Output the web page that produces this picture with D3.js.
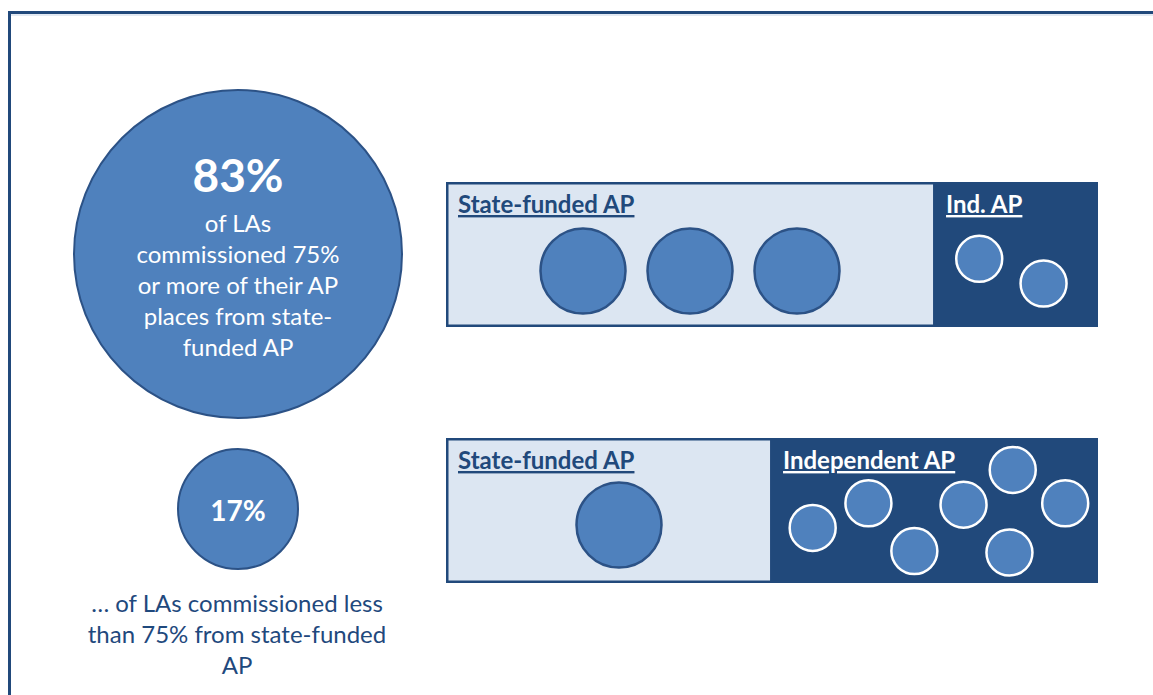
<!DOCTYPE html>
<html>
<head>
<meta charset="utf-8">
<script src="https://cdn.jsdelivr.net/npm/d3@7"></script>
<style>
  body { margin: 0; background: #fff; }
  svg text { font-family: Lato, "Open Sans", sans-serif; }
</style>
</head>
<body>
<script>

var width = 1153, height = 695;

// headline shares of LAs
var shares = [83, 17];
var shareLabels = ["83%", "17%"];
var bigText = ["of LAs", "commissioned 75%", "or more of their AP", "places from state-", "funded AP"];
var smallText = ["\u2026 of LAs commissioned less", "than 75% from state-funded", "AP"];

// each example LA: number of circles per provider kind
var rows = ["over75", "under75"];
var stateCounts = [3, 1];
var indCounts = [2, 7];
var stateTitles = ["State-funded AP", "State-funded AP"];
var indTitles = ["Ind. AP", "Independent AP"];
// share of the box taken by the state-funded part
var stateShare = [0.747, 0.497];

// scattered spots for the independent circles (panel units 0..1)
var indSpotsA = [[0.28, 0.53], [0.67, 0.70]];
var indSpotsB = [[0.13, 0.62], [0.30, 0.45], [0.44, 0.78], [0.59, 0.46], [0.74, 0.22], [0.73, 0.79], [0.90, 0.45]];
var indSpots = [indSpotsA, indSpotsB];

var cFill = "#4f81bd", cStroke = "#2c5286", dark = "#21497b", light = "#dce6f2";

var svg = d3.select("body").append("svg")
    .attr("width", width)
    .attr("height", height);

// frame
svg.append("line").attr("x1", 9).attr("x2", width).attr("y1", 15).attr("y2", 15)
    .attr("stroke", "#c6d4e6").attr("stroke-width", 1);
svg.append("line").attr("x1", 8).attr("x2", width).attr("y1", 12.5).attr("y2", 12.5)
    .attr("stroke", dark).attr("stroke-width", 3);
svg.append("line").attr("x1", 9.5).attr("x2", 9.5).attr("y1", 11).attr("y2", height)
    .attr("stroke", dark).attr("stroke-width", 3);

// left side share circles
var shareY = d3.scalePoint().domain(shares).range([254, 509]);
var shareR = d3.scaleOrdinal().domain(shares).range([164, 60]);

var share = svg.selectAll("g.share")
    .data(shares)
    .enter().append("g")
    .attr("class", "share")
    .attr("transform", function (d) { return "translate(238," + shareY(d) + ")"; });

share.append("circle")
    .attr("r", function (d) { return shareR(d); })
    .attr("fill", cFill)
    .attr("stroke", cStroke)
    .attr("stroke-width", 2);

share.append("text")
    .text(function (d, i) { return shareLabels[i]; })
    .attr("text-anchor", "middle")
    .attr("y", function (d, i) { return i == 0 ? -62 : 12; })
    .attr("fill", "#fff")
    .attr("font-weight", "bold")
    .attr("font-size", function (d, i) { return i == 0 ? 46 : 28; });

var lineY = d3.scaleLinear().domain([0, 1]).range([0, 31]);

svg.append("g").selectAll("text")
    .data(bigText)
    .enter().append("text")
    .attr("x", 238)
    .attr("y", function (d, i) { return 232 + lineY(i); })
    .attr("text-anchor", "middle")
    .attr("fill", "#fff")
    .attr("font-size", 24)
    .text(function (d) { return d; });

svg.append("g").selectAll("text")
    .data(smallText)
    .enter().append("text")
    .attr("x", 237)
    .attr("y", function (d, i) { return 612 + lineY(i); })
    .attr("text-anchor", "middle")
    .attr("fill", "#1f497d")
    .attr("font-size", 24)
    .text(function (d) { return d; });

// example boxes
var boxX = d3.scaleLinear().domain([0, 1]).range([446, 1098]);
var boxY = d3.scalePoint().domain(rows).range([182, 438]);
var boxH = 145;

var box = svg.selectAll("g.box")
    .data(rows)
    .enter().append("g")
    .attr("class", "box")
    .attr("transform", function (d) { return "translate(0," + boxY(d) + ")"; });

box.append("rect")
    .attr("x", boxX(0)).attr("y", 0)
    .attr("width", boxX(1) - boxX(0)).attr("height", boxH)
    .attr("fill", dark);

box.append("rect")
    .attr("x", boxX(0) + 2.5).attr("y", 2.5)
    .attr("width", function (d, i) { return boxX(stateShare[i]) - boxX(0) - 2.5; })
    .attr("height", boxH - 5)
    .attr("fill", light);

box.append("text")
    .attr("x", boxX(0) + 12)
    .attr("y", 31)
    .attr("fill", dark)
    .attr("font-weight", "bold")
    .attr("font-size", 24)
    .style("text-decoration", "underline")
    .text(function (d, i) { return stateTitles[i]; });

box.append("text")
    .attr("x", function (d, i) { return boxX(stateShare[i]) + 13; })
    .attr("y", 31)
    .attr("fill", "#fff")
    .attr("font-weight", "bold")
    .attr("font-size", 24)
    .style("text-decoration", "underline")
    .text(function (d, i) { return indTitles[i]; });

// state-funded circles, evenly spaced around the centre of their part
box.each(function (row, i) {
    var g = d3.select(this);
    var n = stateCounts[i];
    var mid = i == 0 ? 690 : 619;
    var sx = d3.scaleLinear().domain([0, n - 1 || 1]).range(n > 1 ? [mid - 107, mid + 107] : [mid, mid]);
    g.selectAll("circle.st")
        .data(d3.range(n))
        .enter().append("circle")
        .attr("class", "st")
        .attr("cx", function (k) { return sx(k); })
        .attr("cy", i == 0 ? 89 : 87)
        .attr("r", 42.5)
        .attr("fill", cFill)
        .attr("stroke", cStroke)
        .attr("stroke-width", 2.5);

    var px = d3.scaleLinear().domain([0, 1]).range([boxX(stateShare[i]), boxX(1)]);
    var py = d3.scaleLinear().domain([0, 1]).range([0, boxH]);
    g.selectAll("circle.ind")
        .data(indSpots[i].slice(0, indCounts[i]))
        .enter().append("circle")
        .attr("class", "ind")
        .attr("cx", function (p) { return px(p[0]); })
        .attr("cy", function (p) { return py(p[1]); })
        .attr("r", 23)
        .attr("fill", cFill)
        .attr("stroke", "#fff")
        .attr("stroke-width", 2.5);
});

</script>
</body>
</html>
